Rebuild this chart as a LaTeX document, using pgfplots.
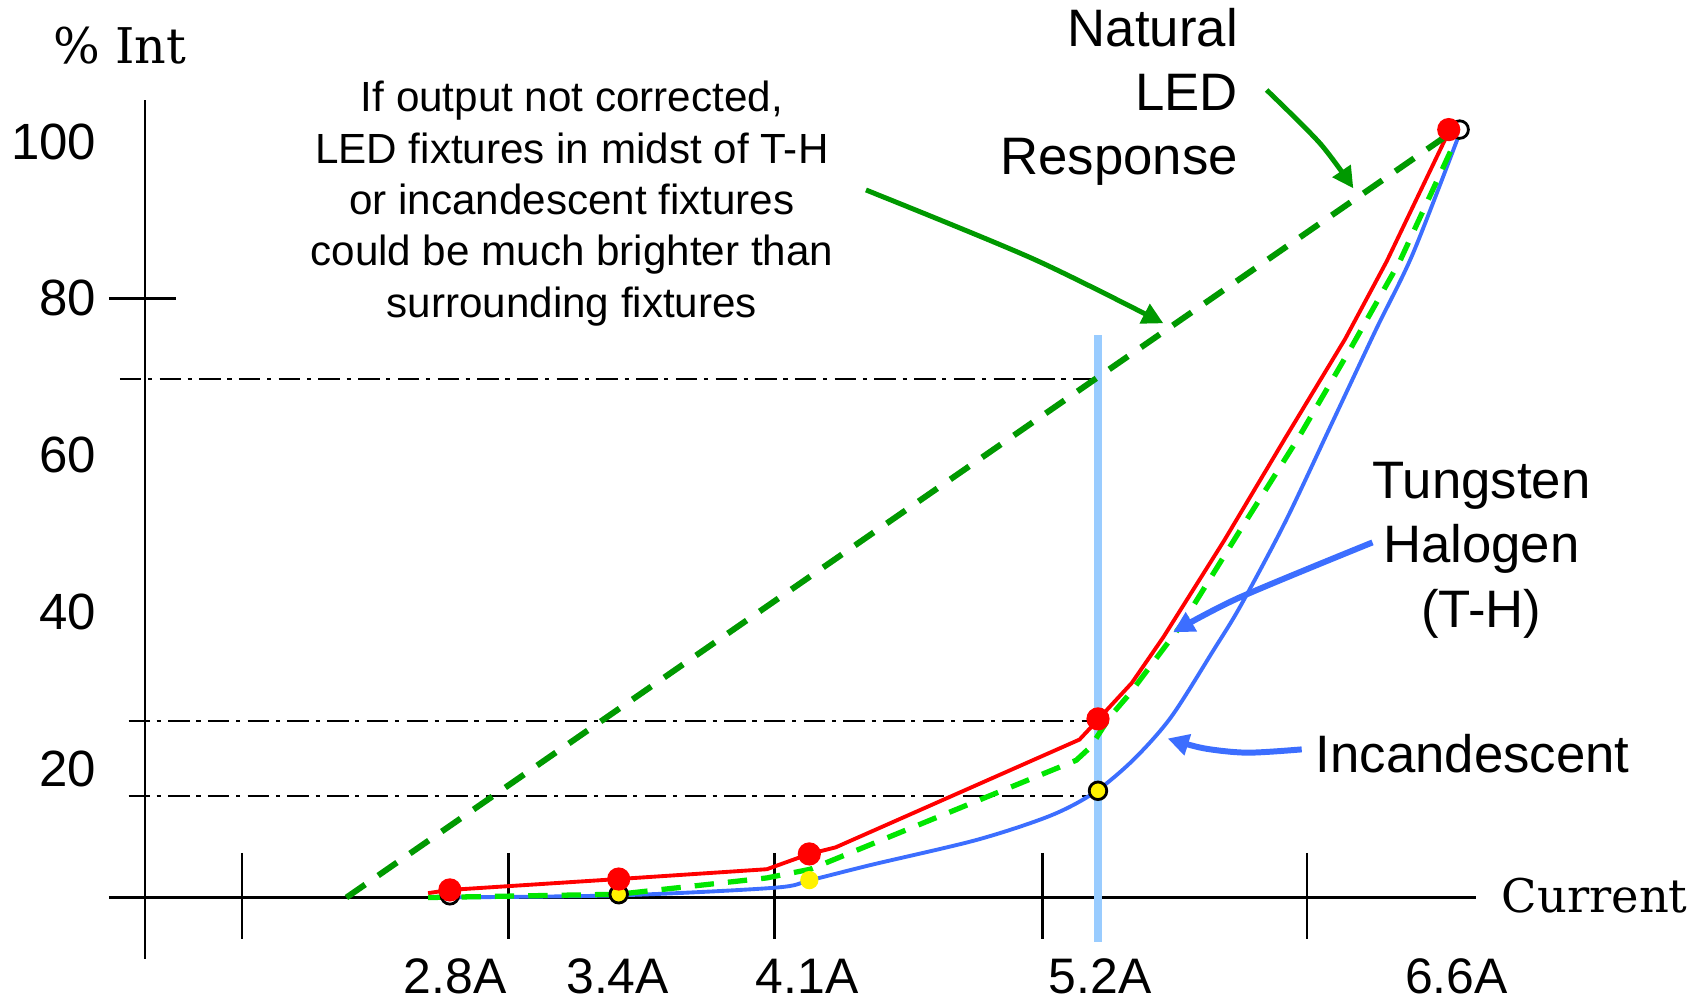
\documentclass[border=0pt]{standalone}
\usepackage{pgfplots}
\pgfplotsset{compat=1.18}
\usepackage{fontspec}
\setmainfont{Liberation Sans}
\newfontfamily\seriffont{DejaVu Serif}
\usetikzlibrary{arrows.meta}
\definecolor{darkgreen}{RGB}{0,153,0}
\definecolor{brightgreen}{RGB}{0,230,0}
\definecolor{lineblue}{RGB}{60,110,255}
\definecolor{lightblue}{RGB}{153,204,255}
\begin{document}
\begin{tikzpicture}
\begin{axis}[name=ax, width=17.08cm, height=10.01cm, scale only axis,
  xmin=0, xmax=1568, ymin=-9.583, ymax=118.056,
  axis lines=none, clip=false]
% axes
\draw[black, line width=0.75pt] (axis cs:133,105.28) -- (axis cs:133,-4.17);
\draw[black, line width=0.9pt] (axis cs:100,3.61) -- (axis cs:1355,3.61);
\draw[black, line width=0.75pt] (axis cs:100,80) -- (axis cs:162,80);
\foreach \xx in {222,467,711,957,1200}{
  \edef\tmp{\noexpand\draw[black, line width=0.7pt] (axis cs:\xx,9.31) -- (axis cs:\xx,-1.67);}\tmp
}
% dash-dot guides
\draw[black, line width=0.7pt, dash pattern=on 6.1pt off 1.9pt on 1.2pt off 2.1pt] (axis cs:110,69.72) -- (axis cs:1008,69.72);
\draw[black, line width=0.7pt, dash pattern=on 6.1pt off 1.9pt on 1.2pt off 2.1pt] (axis cs:118,26.11) -- (axis cs:1008,26.11);
\draw[black, line width=0.7pt, dash pattern=on 6.1pt off 1.9pt on 1.2pt off 2.1pt] (axis cs:118,16.53) -- (axis cs:1008,16.53);
% incandescent markers
\addplot[only marks, mark=*, mark size=2.5pt, mark options={draw=black, fill=white, line width=0.8pt}] coordinates {(413,3.89) (1340,101.53)};
\addplot[only marks, mark=*, mark size=2.5pt, mark options={draw=black, fill=yellow, line width=0.8pt}] coordinates {(568,4.03) (1008,17.22)};
\addplot[only marks, mark=*, mark size=2.4pt, mark options={draw=yellow, fill=yellow}] coordinates {(743,5.83)};
% red (LED corrected) dots and line
\addplot[only marks, mark=*, mark size=3.1pt, mark options={draw=red, fill=red}] coordinates {(413,4.58) (568,5.97) (743,9.17) (1008,26.39) (1330,101.53)};
\addplot[red, line width=1.1pt, no marks] coordinates {
(393,4.17) (413,4.58) (568,5.97) (704,7.22) (743,9.17) (767,10.0) (991,23.75) (1005,25.83) (1015,27.36) (1039,30.97) (1068,36.81) (1124,49.17) (1180,62.22) (1235,74.86) (1273,84.72) (1331,101.53)};
% light blue vertical line at 5.2A
\draw[lightblue, line width=2.2pt] (axis cs:1008,75.28) -- (axis cs:1008,-2.08);
% blue incandescent curve
\addplot[lineblue, line width=1.1pt, no marks, smooth, tension=0.5] coordinates {
(393,3.61) (568,3.89) (711,4.86) (744,5.83) (800,7.78) (897,10.97) (964,14.03) (1004,16.94) (1040,21.11) (1075,26.6) (1114,35.14) (1139,40.83) (1180,51.53) (1223,64.17) (1263,75.97) (1297,85.69) (1339,100.69)};
% bright green dashed (tungsten halogen)
\addplot[brightgreen, line width=1.5pt, no marks, dash pattern=on 5.5pt off 4pt] coordinates {
(393,3.61) (568,4.03) (704,6.11) (744,7.22) (988,21.11) (1001,22.78) (1019,26.67) (1037,29.58) (1085,38.47) (1139,50.56) (1192,62.22) (1241,73.89) (1285,84.72) (1339,100.97)};
% dark green dashed (natural LED response)
\addplot[darkgreen, line width=1.7pt, no marks, dash pattern=on 6.5pt off 4.5pt] coordinates {(318,3.61) (1339,101.8)};
% arrows
\draw[darkgreen, line width=1.4pt, -{Triangle[length=6pt,width=6pt]}] plot[smooth] coordinates {(axis cs:795,93.83) (axis cs:948.6,85.04) (axis cs:1068,76.83)};
\draw[darkgreen, line width=1.4pt, -{Triangle[length=6pt,width=6pt]}] plot[smooth] coordinates {(axis cs:1162.8,106.58) (axis cs:1211.8,99.78) (axis cs:1242.4,94.04)};
\draw[lineblue, line width=1.7pt, -{Triangle[length=6pt,width=6pt]}] plot[smooth] coordinates {(axis cs:1260,48.89) (axis cs:1137,41.81) (axis cs:1077,37.43)};
\draw[lineblue, line width=1.7pt, -{Triangle[length=6pt,width=6pt]}] plot[smooth] coordinates {(axis cs:1195,22.5) (axis cs:1145,22.08) (axis cs:1105,22.64) (axis cs:1072,23.89)};
% texts
\node[inner sep=0pt, font=\seriffont\fontsize{14}{17}\selectfont] at (axis cs:110,112.2) {\% Int};
\node[inner sep=0pt, font=\seriffont\fontsize{13.2}{16}\selectfont] at (axis cs:1464,3.89) {Current};
\foreach \v in {100,80,60,40,20}{
  \edef\tmp{\noexpand\node[anchor=east, inner sep=0pt, font=\noexpand\fontsize{14.5}{17}\noexpand\selectfont] at (axis cs:89,\v) {\v};}\tmp
}
\node[inner sep=0pt, font=\fontsize{14.2}{17}\selectfont] at (axis cs:418,-6.45) {2.8A};
\node[inner sep=0pt, font=\fontsize{14.2}{17}\selectfont] at (axis cs:567,-6.45) {3.4A};
\node[inner sep=0pt, font=\fontsize{14.2}{17}\selectfont] at (axis cs:741,-6.45) {4.1A};
\node[inner sep=0pt, font=\fontsize{14.2}{17}\selectfont] at (axis cs:1010,-6.45) {5.2A};
\node[inner sep=0pt, font=\fontsize{14.2}{17}\selectfont] at (axis cs:1337,-6.45) {6.6A};
\node[inner sep=0pt, align=center, font=\fontsize{12}{14.6}\selectfont] at (axis cs:525,92.08) {If output not corrected,\\LED fixtures in midst of T-H\\or incandescent fixtures\\could be much brighter than\\surrounding fixtures};
\node[align=right, anchor=east, inner sep=0pt, font=\fontsize{15}{18.3}\selectfont] at (axis cs:1137,105.7) {Natural\\LED\\Response};
\node[inner sep=0pt, align=center, font=\fontsize{15}{18.3}\selectfont] at (axis cs:1360,47.92) {Tungsten\\Halogen\\(T-H)};
\node[inner sep=0pt, font=\fontsize{15}{18.3}\selectfont] at (axis cs:1352,21.94) {Incandescent};
\end{axis}
\pgfresetboundingbox
\path (ax.south west) rectangle (ax.north east);
\end{tikzpicture}
\end{document}
